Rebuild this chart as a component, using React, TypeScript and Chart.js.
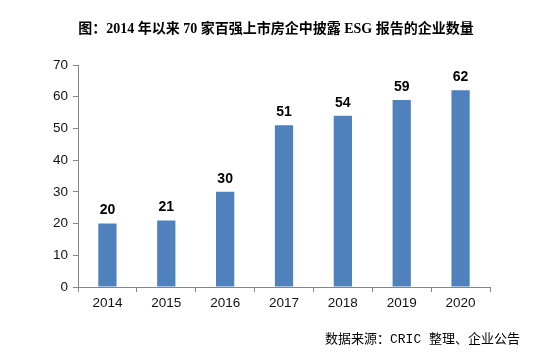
import React, { useEffect, useRef } from "react";
import { Chart, registerables } from "chart.js";

Chart.register(...registerables);

const categories = ["2014", "2015", "2016", "2017", "2018", "2019", "2020"];
const values = [20, 21, 30, 51, 54, 59, 62];
const titleText = "图：2014 年以来 70 家百强上市房企中披露 ESG 报告的企业数量";
const sourceText = "数据来源：CRIC 整理、企业公告";

export default function App() {
  const ref = useRef<HTMLCanvasElement | null>(null);

  useEffect(() => {
    document.body.style.margin = "0";
    const canvas = ref.current;
    if (!canvas) return;

    const overlay = {
      id: "overlay",
      afterDatasetsDraw(chart: any) {
        const ctx = chart.ctx;
        ctx.save();
        const meta = chart.getDatasetMeta(0);
        ctx.fillStyle = "#000";
        ctx.font = "bold 14px 'Liberation Sans', Arial, sans-serif";
        ctx.textAlign = "center";
        ctx.textBaseline = "bottom";
        meta.data.forEach((bar: any, i: number) => {
          ctx.fillText(String(values[i]), bar.x, bar.y - 6);
        });
        ctx.restore();
      },
      afterDraw(chart: any) {
        const ctx = chart.ctx;
        ctx.save();
        ctx.fillStyle = "#000";
        ctx.font = "bold 14px 'Liberation Serif', 'Noto Sans CJK SC', serif";
        ctx.textAlign = "center";
        ctx.textBaseline = "middle";
        ctx.fillText(titleText, 276, 29);
        ctx.font = "13px 'Liberation Mono', 'Noto Sans CJK SC', sans-serif";
        ctx.textAlign = "right";
        ctx.fillText(sourceText, 520, 340);
        ctx.restore();
      },
    };

    const tickFont = { family: "'Liberation Sans', Arial, sans-serif", size: 13.5 };

    const chart = new Chart(canvas, {
      type: "bar",
      data: {
        labels: categories,
        datasets: [
          {
            data: values,
            backgroundColor: "#4f81bd",
            barPercentage: 0.31,
            categoryPercentage: 1,
          },
        ],
      },
      options: {
        animation: false,
        responsive: false,
        maintainAspectRatio: false,
        layout: { padding: { left: 0, right: 43, top: 65, bottom: 0 } },
        plugins: {
          legend: { display: false },
          tooltip: { enabled: false },
          title: { display: false },
        },
        scales: {
          x: {
            offset: true,
            grid: {
              offset: true,
              drawOnChartArea: false,
              drawTicks: true,
              tickLength: 5,
              color: "#868686",
            },
            border: { display: true, color: "#868686" },
            ticks: {
              color: "#111",
              font: tickFont,
              padding: 3,
            },
            afterFit(scale: any) {
              scale.height = 65;
            },
          },
          y: {
            min: 0,
            max: 70,
            ticks: {
              stepSize: 10,
              color: "#111",
              font: tickFont,
              padding: 5,
            },
            grid: {
              drawOnChartArea: false,
              drawTicks: true,
              tickLength: 5,
              color: "#868686",
            },
            border: { display: true, color: "#868686" },
            afterFit(scale: any) {
              scale.width = 78;
            },
          },
        },
      },
      plugins: [overlay],
    });

    return () => chart.destroy();
  }, []);

  return <canvas ref={ref} width={533} height={352} style={{ display: "block" }} />;
}
